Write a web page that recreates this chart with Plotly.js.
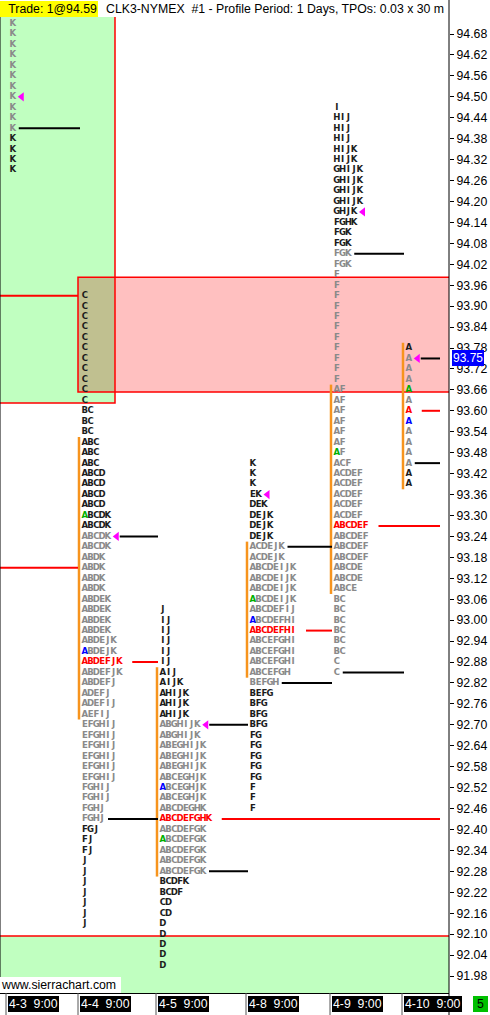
<!DOCTYPE html>
<html><head><meta charset="utf-8">
<script src="https://cdn.plot.ly/plotly-3.0.1.min.js"></script>
<style>html,body{margin:0;padding:0;background:#fff;overflow:hidden}#chart{width:490px;height:1015px}</style>
</head><body><div id="chart"></div>
<script>
// ---------------- data ----------------
const sessionLabels = ['4-3\u00a0\u00a09:00','4-4\u00a0\u00a09:00','4-5\u00a0\u00a09:00','4-8\u00a0\u00a09:00','4-9\u00a0\u00a09:00','4-10\u00a0\u00a09:00'];
const tpoSize = 0.03;
const rowTop = [94.71, 93.93, 93.03, 93.45, 94.47, 93.78];

const tpo_0403 = ['K','K','K','K','K','K','K','K','K','K','K','K','K','K','K'];
const tpo_0404 = ['C','C','C','C','C','C','C','C','C','C','C',
  'BC','BC','BC','ABC','ABC','ABC','ABCD','ABCD','ABCD','ABCD',
  'ABCDK','ABCDK','ABCDK','ABCDK','ABDK','ABDK','ABDK','ABDK',
  'ABDEK','ABDEK','ABDEK','ABDEK','ABDEJK','ABDEJK','ABDEFJK','ABDEFJK',
  'ABDEFJ','ADEFJ','ADEFIJ','AEFIJ',
  'EFGHIJ','EFGHIJ','EFGHIJ','EFGHIJ','EFGHIJ','EFGHIJ','FGHIJ','FGHIJ',
  'FGHJ','FGHJ','FGJ','FJ','FJ','J','J','J','J','J','J','J'];
const tpo_0405 = ['J','IJ','IJ','IJ','IJ','IJ','AIJ','AIJK','AHIJK','AHIJK','AHIJK',
  'ABGHIJK','ABGHIJK','ABEGHIJK','ABEGHIJK','ABEGHIJK','ABCEGHJK','ABCEGHJK','ABCEGHJK',
  'ABCDEGHK','ABCDEFGHK','ABCDEFGK','ABCDEFGK','ABCDEFGK','ABCDEFGK','ABCDEFGK',
  'BCDFK','BCDF','CD','CD','D','D','D','D','D'];
const tpo_0408 = ['K','K','K','EK','DEK','DEJK','DEJK','DEJK','ACDEJK','ACDEJK',
  'ABCDEIJK','ABCDEIJK','ABCDEIJK','ABCDEIJK','ABCDEFIJ','ABCDEFHI','ABCDEFHI',
  'ABCEFGHI','ABCEFGHI','ABCEFGHI','ABCEFGH','BEFGH','BEFG','BFG','BFG','BFG',
  'FG','FG','FG','FG','FG','F','F','F'];
const tpo_0409 = ['I','HIJ','HIJ','HIJ','HIJK','HIJK','GHIJK','GHIJK','GHIJK','GHIJK','GHJK','FGHK',
  'FGK','FGK','FGK','FGK','F','F','F','F','F','F','F','F','F','F','F',
  'AF','AF','AF','AF','AF','AF','AF','ACF','ACDEF','ACDEF','ACDEF','ACDEF','ACDEF',
  'ABCDEF','ABCDEF','ABCDEF','ABCDEF','ABCDE','ABCDE','ABCE',
  'BC','BC','BC','BC','BC','BC','C','C'];
const tpo_0410 = ['A','A','A','A','A','A','A','A','A','A','A','A','A','A'];

const valueAreaHigh = [null, 93.51, 92.85, 93.21, 93.66, 93.78];
const valueAreaLow  = [null, 92.73, 92.28, 92.85, 93.09, 93.39];
const pocPrice      = [null, 92.88, 92.43, 92.97, 93.27, 93.60];
const refHigh       = [null, 93.24, 92.70, 93.21, 94.05, 93.75];
const refLow        = [94.41, 92.43, 92.28, 92.82, 92.85, 93.45];
const closeMark     = [94.50, 93.24, 92.70, 93.36, 94.17, 93.75];
const openA         = [null, 93.30, 92.37, 93.06, 93.48, 93.66];
const blueA         = [null, 92.91, 92.52, 93.00, null, 93.57];
const priorPocLevels = [93.93, 93.15];
const greenZoneTop = {top: 94.80, bottom: 93.622};
const pinkZone = {top: 93.983, bottom: 93.654};
const greenZoneBottom = {top: 92.095, bottom: 91.80};
const lastPrice = 93.75;
const tradeText = 'Trade: 1@94.59';
const headerText = 'CLK3-NYMEX\u00a0\u00a0#1 - Profile Period: 1 Days, TPOs: 0.03 x 30 m';
const barCountText = '5';

// ---------------- layout constants ----------------
const sessionEdge = [6, 78, 156, 246, 330, 402];
const letterStart = sessionEdge.map(e => e + 4);
const ADV = 5.75;
const RIGHT_END = 440;
const C_DARK = '#1c1c1c', C_GRAY = '#8a8a8a', C_RED = '#ff0000', C_GREEN = '#00b000', C_BLUE = '#0000ff';

const profiles = [tpo_0403, tpo_0404, tpo_0405, tpo_0408, tpo_0409, tpo_0410];
const cents = v => Math.round(v * 100);
const priceOf = (s, r) => (cents(rowTop[s]) - r * cents(tpoSize)) / 100;
function rowAt(s, p) {
  const r = Math.round((cents(rowTop[s]) - cents(p)) / cents(tpoSize));
  return profiles[s][r] || '';
}
const textEnd = (s, p) => letterStart[s] + rowAt(s, p).length * ADV;
function sessionRange(s) {
  const n = profiles[s].length;
  return [priceOf(s, n - 1), rowTop[s]];
}

const lx = [], ly = [], lt = [], lc = [];
profiles.forEach((rows, s) => {
  rows.forEach((str, r) => {
    const p = priceOf(s, r);
    const hi = refHigh[s] === null ? Infinity : cents(refHigh[s]);
    const gray = cents(p) <= hi && cents(p) >= cents(refLow[s]);
    for (let i = 0; i < str.length; i++) {
      let col = gray ? C_GRAY : C_DARK;
      if (pocPrice[s] !== null && cents(p) === cents(pocPrice[s])) col = C_RED;
      else if (i === 0 && str[0] === 'A' && openA[s] !== null && cents(p) === cents(openA[s])) col = C_GREEN;
      else if (i === 0 && str[0] === 'A' && blueA[s] !== null && cents(p) === cents(blueA[s])) col = C_BLUE;
      lx.push(letterStart[s] + (i + 0.5) * ADV);
      ly.push(p);
      lt.push(str[i]);
      lc.push(col);
    }
  });
});

const shapes = [];
// zones (fills)
const xL = -3, xR = 455;
shapes.push({type:'rect', xref:'x', yref:'y', x0:xL, x1:115, y0:greenZoneTop.bottom, y1:greenZoneTop.top, fillcolor:'#c0ffc0', line:{width:0}, layer:'below'});
shapes.push({type:'rect', xref:'x', yref:'y', x0:78, x1:xR, y0:pinkZone.bottom, y1:pinkZone.top, fillcolor:'#ffc0c0', line:{width:0}, layer:'below'});
shapes.push({type:'rect', xref:'x', yref:'y', x0:78, x1:115, y0:Math.max(pinkZone.bottom, greenZoneTop.bottom), y1:Math.min(pinkZone.top, greenZoneTop.top), fillcolor:'#c0c090', line:{width:0}, layer:'below'});
shapes.push({type:'rect', xref:'x', yref:'y', x0:xL, x1:xR, y0:greenZoneBottom.bottom, y1:greenZoneBottom.top, fillcolor:'#c0ffc0', line:{width:0}, layer:'below'});
// zone borders
shapes.push({type:'rect', xref:'x', yref:'y', x0:xL, x1:115, y0:greenZoneTop.bottom, y1:greenZoneTop.top, fillcolor:'rgba(0,0,0,0)', line:{color:C_RED, width:1.5}, layer:'below'});
shapes.push({type:'rect', xref:'x', yref:'y', x0:78, x1:xR, y0:pinkZone.bottom, y1:pinkZone.top, fillcolor:'rgba(0,0,0,0)', line:{color:C_RED, width:1.5}, layer:'below'});
shapes.push({type:'rect', xref:'x', yref:'y', x0:xL, x1:xR, y0:greenZoneBottom.bottom, y1:greenZoneBottom.top, fillcolor:'rgba(0,0,0,0)', line:{color:C_RED, width:1.5}, layer:'below'});

// value area bars
profiles.forEach((rows, s) => {
  if (valueAreaHigh[s] === null) return;
  shapes.push({type:'line', xref:'x', yref:'y', x0:letterStart[s]-3, x1:letterStart[s]-3,
    y0:valueAreaHigh[s] + tpoSize/2, y1:valueAreaLow[s] - tpoSize/2, line:{color:'#f7941d', width:2.5}});
});
const nextStart = s => (s + 1 < profiles.length ? letterStart[s+1] - 2 : RIGHT_END);
// black reference lines
profiles.forEach((rows, s) => {
  [refHigh[s], refLow[s]].forEach(p => {
    if (p === null) return;
    const gap = cents(p) === cents(closeMark[s]) ? 9 : 3;
    shapes.push({type:'line', xref:'x', yref:'y', x0:textEnd(s, p) + gap, x1:nextStart(s), y0:p, y1:p, line:{color:'#000', width:2}});
  });
});
// POC extension lines
profiles.forEach((rows, s) => {
  const p = pocPrice[s];
  if (p === null) return;
  let end = RIGHT_END;
  for (let t = s + 1; t < profiles.length; t++) {
    const [lo, hi] = sessionRange(t);
    if (cents(p) >= cents(lo) && cents(p) <= cents(hi)) { end = letterStart[t] - 2; break; }
  }
  shapes.push({type:'line', xref:'x', yref:'y', x0:textEnd(s, p) + 10, x1:end, y0:p, y1:p, line:{color:C_RED, width:2}});
});
priorPocLevels.forEach(p => {
  shapes.push({type:'line', xref:'x', yref:'y', x0:xL, x1:letterStart[1]-4, y0:p, y1:p, line:{color:C_RED, width:2}});
});
// frame lines
const topExt = 1 + 17/976, botExt = -22/976;
shapes.push({type:'line', xref:'paper', yref:'paper', x0:1, x1:1, y0:botExt, y1:topExt, line:{color:'#000', width:1}});
shapes.push({type:'line', xref:'paper', yref:'paper', x0:0, x1:0, y0:0, y1:1, line:{color:'#000', width:1}});
sessionEdge.forEach(e => {
  shapes.push({type:'line', xref:'x', yref:'paper', x0:e, x1:e, y0:0, y1:botExt, line:{color:'#555', width:1}});
});

const annotations = [];
const F = 'Liberation Sans, Arial, sans-serif';
annotations.push({xref:'paper', yref:'paper', x:0, y:1, xanchor:'left', yanchor:'bottom', text:tradeText,
  showarrow:false, bgcolor:'#ffff00', font:{family:F, size:12.3, color:'#000'}, borderpad:1, borderwidth:0, width:96, align:'right'});
annotations.push({xref:'paper', yref:'paper', x:105/449, y:1, xanchor:'left', yanchor:'bottom', text:headerText,
  showarrow:false, font:{family:F, size:12.3, color:'#000'}, borderpad:1, borderwidth:0});
annotations.push({xref:'paper', yref:'y', x:1, y:lastPrice, xanchor:'left', yanchor:'middle', xshift:3, text:lastPrice.toFixed(2),
  showarrow:false, bgcolor:'#0000ff', font:{family:F, size:12, color:'#fff'}, borderpad:1, borderwidth:0});
sessionLabels.forEach((lab, i) => {
  annotations.push({xref:'x', yref:'paper', x:sessionEdge[i] + 2, y:0, xanchor:'left', yanchor:'top', yshift:-3, text:lab,
    showarrow:false, bgcolor:'#000', font:{family:F, size:12.3, color:'#fff'}, borderpad:1, borderwidth:0});
});
annotations.push({xref:'paper', yref:'paper', x:473/449, y:0, xanchor:'left', yanchor:'top', yshift:-3, text:barCountText,
  showarrow:false, bgcolor:'#00c000', font:{family:F, size:12.3, color:'#000'}, borderpad:1, borderwidth:0, width:13});
annotations.push({xref:'paper', yref:'paper', x:0, y:0, xanchor:'left', yanchor:'bottom', text:'www.sierrachart.com',
  showarrow:false, bgcolor:'#fff', font:{family:F, size:12.3, color:'#000'}, borderpad:1, borderwidth:0, width:119, align:'left'});

const traces = [
  {type:'scatter', mode:'text', x:lx, y:ly, text:lt, textposition:'middle center', hoverinfo:'skip',
   textfont:{family:'Liberation Sans Narrow, DejaVu Sans Condensed, Liberation Sans, sans-serif', size:9.5, weight:'bold', color:lc}},
  {type:'scatter', mode:'markers', x:closeMark.map((p, s) => textEnd(s, p) + 6), y:closeMark, hoverinfo:'skip',
   marker:{symbol:'triangle-left', size:8, color:'#ff00ff'}}
];

const layout = {
  width:490, height:1015,
  margin:{l:0, r:41, t:17, b:22, pad:0},
  paper_bgcolor:'#fff', plot_bgcolor:'#fff', showlegend:false,
  xaxis:{range:[0,449], showgrid:false, zeroline:false, showticklabels:false, ticks:'', showline:true, linecolor:'#000', linewidth:1, fixedrange:true},
  yaxis:{side:'right', range:[91.98 - 17/348.9, 94.68 + 17/348.9], tick0:91.98, dtick:0.06, tickformat:'.2f',
    ticks:'outside', ticklen:4, tickcolor:'#000', showgrid:false, zeroline:false, showline:false,
    tickfont:{family:F, size:12.3, color:'#000'}, fixedrange:true},
  shapes:shapes, annotations:annotations
};
Plotly.newPlot('chart', traces, layout, {displayModeBar:false, staticPlot:true});
</script></body></html>
